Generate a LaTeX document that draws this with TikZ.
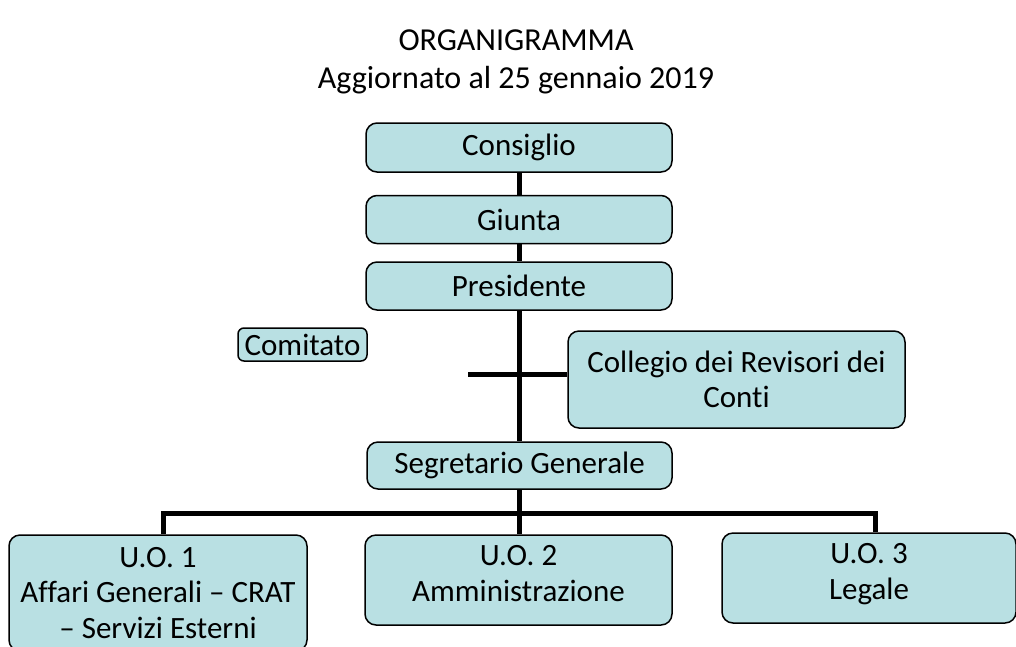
\documentclass[tikz,border=0pt]{standalone}
\usepackage{fontspec}
\setmainfont[Ligatures=CommonOff]{Carlito}
\usetikzlibrary{positioning}

\definecolor{boxfill}{RGB}{185,224,227}

\begin{document}
\begin{tikzpicture}[
    x=1pt, y=-1pt,
    unit/.style={
      draw,
      fill=boxfill,
      line width=1.5pt,
      rounded corners=11pt,
      minimum width=306pt,
      minimum height=48pt,
      inner sep=0pt,
      align=center,
      font=\fontsize{31}{35.5}\selectfont
    },
    link/.style={line width=5pt}
  ]
    \useasboundingbox (0,0) rectangle (1016,646);

    \node[align=center, font=\fontsize{32}{38.5}\selectfont] (title) at (516,62)
      {ORGANIGRAMMA\\Aggiornato al 25 gennaio 2019};

    \node[unit, minimum height=49pt] (consiglio) at (519,147.5) {Consiglio};
    \node[unit, below=22pt of consiglio] (giunta) {Giunta};
    \node[unit, below=17pt of giunta] (presidente) {Presidente};
    \node[unit, minimum width=129pt, minimum height=33pt, rounded corners=6pt] (comitato) at (302.5,344.5) {Comitato};
    \node[unit, minimum width=337pt, minimum height=97pt] (collegio) at (736.5,379.5) {Collegio dei Revisori dei\\Conti};
    \node[unit, minimum width=305pt, minimum height=47pt] (segretario) at (519.5,465.5) {Segretario Generale};

    \node[unit, minimum width=298pt, minimum height=116pt] (uo1) at (158,593) {U.O. 1\\Affari Generali – CRAT\\– Servizi Esterni};
    \node[unit, minimum width=307pt, minimum height=90pt, text depth=13pt] (uo2) at (518.5,580) {U.O. 2\\Amministrazione};
    \node[unit, minimum width=294pt, minimum height=90pt, text depth=13pt] (uo3) at (869,578) {U.O. 3\\Legale};

    \coordinate (revisori) at (468,374);
    \coordinate (barleft) at (163,513);
    \coordinate (barright) at (875,513);

    \draw[link] (consiglio) -- (giunta);
    \draw[link] (giunta) -- (presidente);
    \draw[link] (presidente.south -| segretario.north) -- (segretario);
    \draw[link] (collegio.west |- revisori) -- (revisori);
    \draw[link] (segretario.south) -- (uo2.north -| segretario.south);
    \draw[link] (uo1.north -| barleft) -- (barleft) -- (barright) -- (uo3.north -| barright);
  \end{tikzpicture}
\end{document}
